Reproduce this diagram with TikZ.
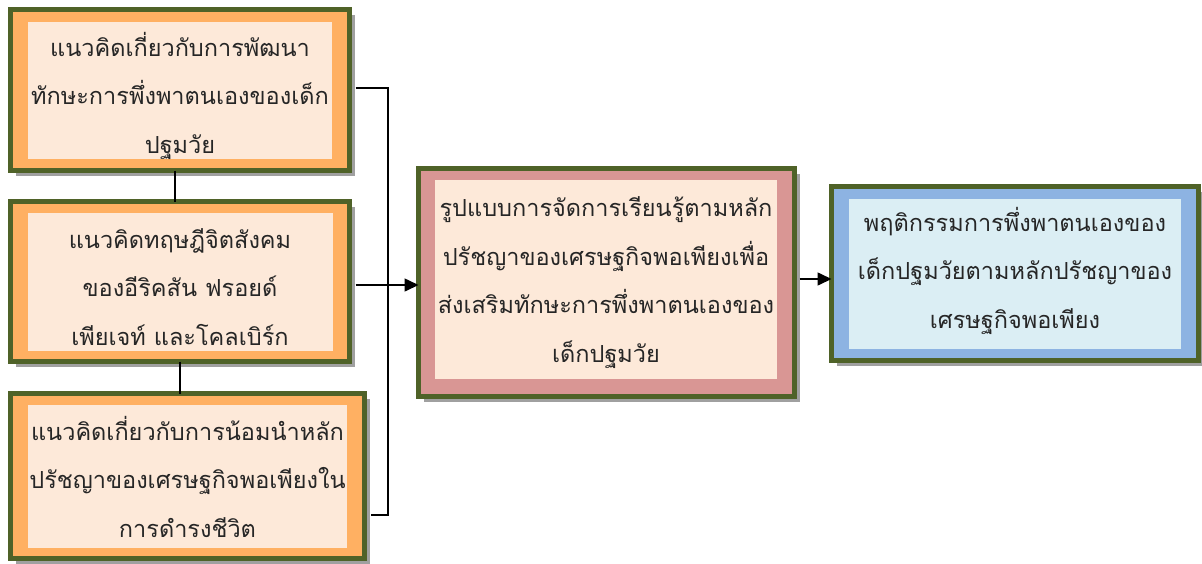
\documentclass[tikz,border=0pt]{standalone}
\usepackage{fontspec}
\newfontfamily\thaifont[Script=Thai]{Loma}
\usetikzlibrary{arrows.meta,shadows}
\definecolor{olive}{HTML}{4F6228}
\definecolor{orangefill}{HTML}{FFB062}
\definecolor{peach}{HTML}{FDE9D9}
\definecolor{pinkfill}{HTML}{D99694}
\definecolor{bluefill}{HTML}{8DB3E2}
\definecolor{lightblue}{HTML}{DBEEF4}
\definecolor{shadowgray}{HTML}{A0A0A0}
\tikzset{
  outerbox/.style={draw=olive,line width=5pt,inner sep=0pt,outer sep=0pt,
    drop shadow={shadow xshift=5pt,shadow yshift=-5pt,fill=shadowgray,opacity=1}},
  innerbox/.style={inner sep=0pt,outer sep=0pt,fill=peach},
  txt/.style={inner sep=0pt,outer sep=0pt,align=center,text=black!85,anchor=base,
    font=\thaifont\fontsize{23.5}{48.5}\selectfont},
  conn/.style={line width=1.6pt,black},
  arr/.style={conn,-{Triangle[length=14pt,width=13pt]}}
}
\begin{document}
\begin{tikzpicture}[x=1pt,y=-1pt]
\useasboundingbox[fill=white] (0,0) rectangle (1202,563);
% box 1
\node[outerbox,fill=orangefill,minimum width=339pt,minimum height=161pt] (b1) at (180,90) {};
\node[innerbox,minimum width=304pt,minimum height=137pt] (b1in) at (180,90.5) {};
\node[txt] (t1) at (180,153) {แนวคิดเกี่ยวกับการพัฒนา\\ทักษะการพึ่งพาตนเองของเด็ก\\ปฐมวัย};
% box 2
\node[outerbox,fill=orangefill,minimum width=339pt,minimum height=160pt] (b2) at (180,281.5) {};
\node[innerbox,minimum width=305pt,minimum height=138pt] (b2in) at (180.5,282) {};
\node[txt] (t2) at (180,345) {แนวคิดทฤษฎีจิตสังคม\\ของอีริคสัน ฟรอยด์\\เพียเจท์ และโคลเบิร์ก};
% box 3
\node[outerbox,fill=orangefill,minimum width=354pt,minimum height=165pt] (b3) at (187.5,476) {};
\node[innerbox,minimum width=319pt,minimum height=143pt] (b3in) at (187.5,476.5) {};
\node[txt] (t3) at (187.5,537) {แนวคิดเกี่ยวกับการน้อมนำหลัก\\ปรัชญาของเศรษฐกิจพอเพียงใน\\การดำรงชีวิต};
% middle box
\node[outerbox,fill=pinkfill,minimum width=376pt,minimum height=228pt] (bm) at (606.5,282.5) {};
\node[innerbox,minimum width=342pt,minimum height=199pt] (bmin) at (606,279.5) {};
\node[txt] (tm) at (606,362) {รูปแบบการจัดการเรียนรู้ตามหลัก\\ปรัชญาของเศรษฐกิจพอเพียงเพื่อ\\ส่งเสริมทักษะการพึ่งพาตนเองของ\\เด็กปฐมวัย};
% right box
\node[outerbox,fill=bluefill,minimum width=367pt,minimum height=174pt] (br) at (1015,273.5) {};
\node[innerbox,fill=lightblue,minimum width=332pt,minimum height=150pt] (brin) at (1015,274) {};
\node[txt] (tr) at (1015,328) {พฤติกรรมการพึ่งพาตนเองของ\\เด็กปฐมวัยตามหลักปรัชญาของ\\เศรษฐกิจพอเพียง};
% connectors
\coordinate (j1) at (388,88);
\coordinate (j3) at (388,515);
\draw[conn] ([xshift=6pt]b1.east |- j1) -- (j1) -- (j3) -- ([xshift=6pt]b3.east |- j3);
\draw[arr] ([xshift=6pt]b2.east |- 0,285) -- (bm.west |- 0,285);
\draw[conn] (b1.south -| 175,0) -- (b2.north -| 175,0);
\draw[conn] (b2.south -| 180,0) -- (b3.north -| 180,0);
\draw[arr] ([xshift=5pt]bm.east |- 0,279) -- (br.west |- 0,279);
\end{tikzpicture}
\end{document}
